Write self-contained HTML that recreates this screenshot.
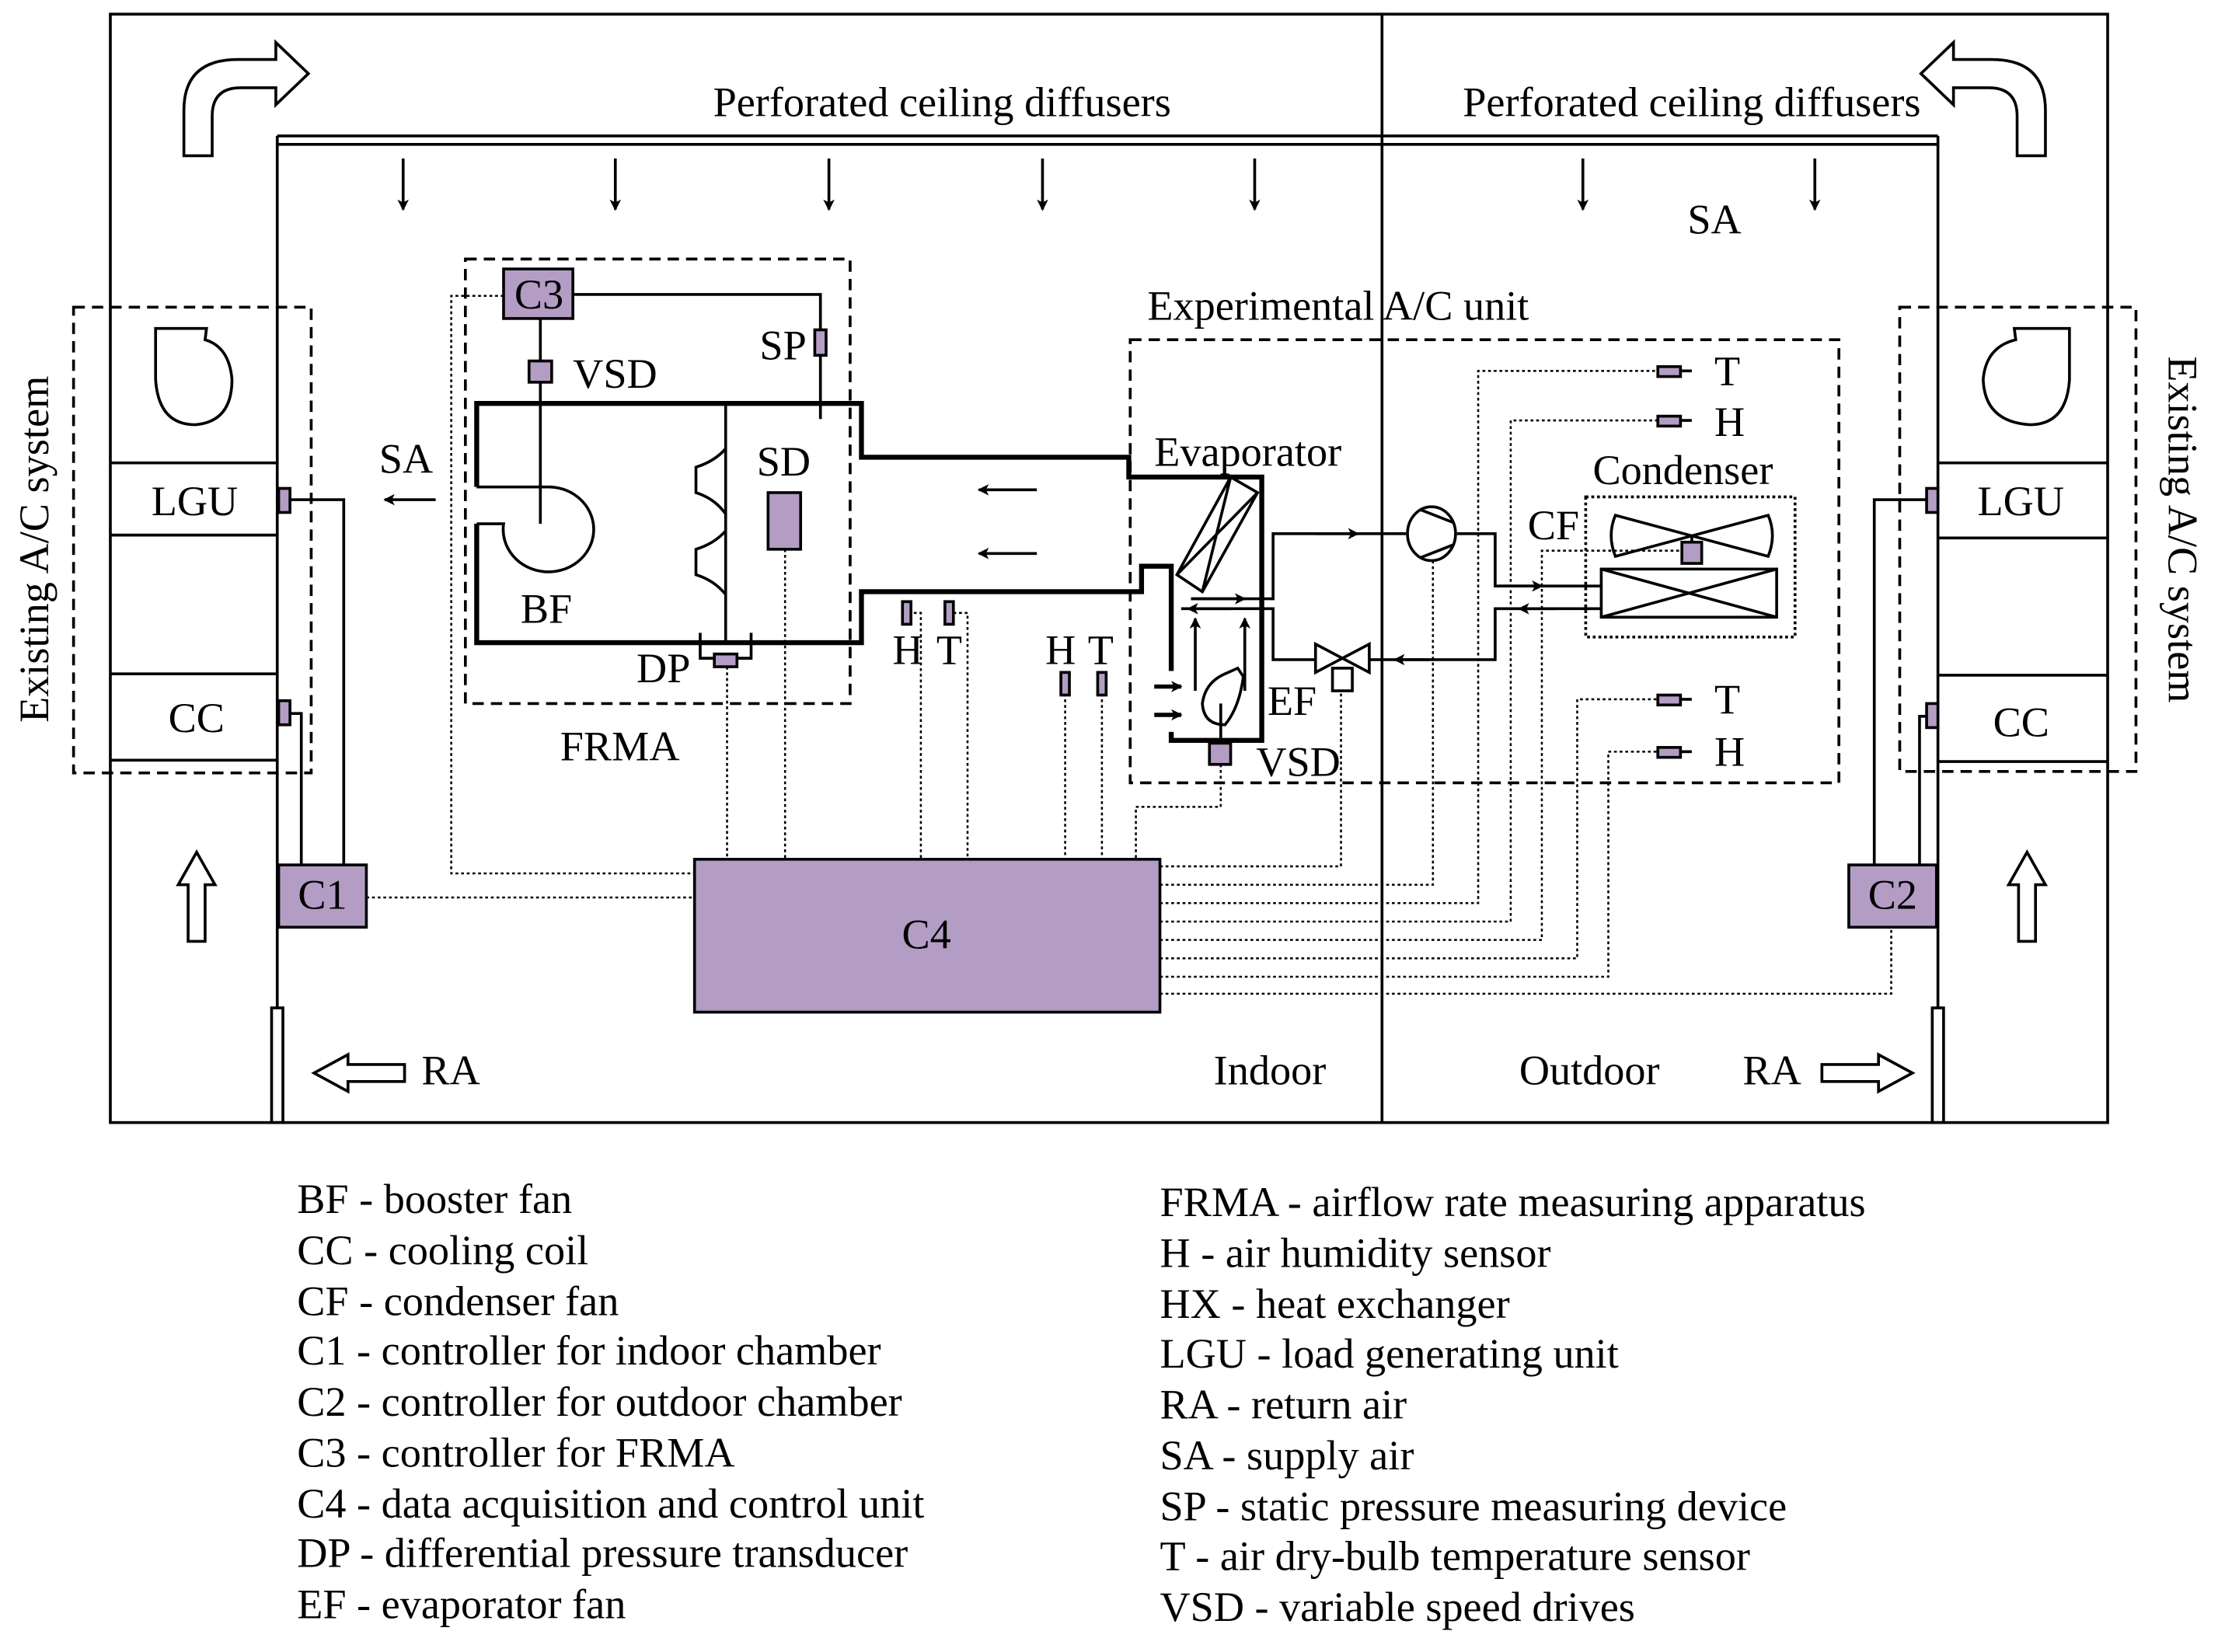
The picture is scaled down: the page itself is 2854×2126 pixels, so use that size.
<!DOCTYPE html>
<html><head><meta charset="utf-8"><style>
html,body{margin:0;padding:0;background:#fff;}
svg{display:block;}
text{font-family:"Liberation Serif",serif;fill:#000;}
</style></head><body>
<svg width="2854" height="2126" viewBox="0 0 1568 1167" preserveAspectRatio="none" xmlns="http://www.w3.org/2000/svg">
<defs>
<marker id="ah" markerWidth="8" markerHeight="8" refX="7" refY="4" orient="auto" markerUnits="userSpaceOnUse"><path d="M0,0 L8,4 L0,8 L2,4 Z" fill="#000"/></marker>
</defs>
<g fill="none" stroke="#000" stroke-width="2">
<rect x="78" y="10" width="1412" height="783"/>
<line x1="977" y1="10" x2="977" y2="793"/>
<line x1="196" y1="96" x2="1370" y2="96"/>
<line x1="196" y1="102" x2="1370" y2="102"/>
<line x1="196" y1="96" x2="196" y2="712"/>
<line x1="1370" y1="96" x2="1370" y2="712"/>
<rect x="192" y="712" width="8" height="81"/>
<rect x="1366" y="712" width="8" height="81"/>
<path d="M130,110 L130,78 Q130,42 168,42 L195,42 L195,30 L218,52 L195,74 L195,62 L170,62 Q150,62 150,82 L150,110 Z"/>
<path d="M1446,110 L1446,78 Q1446,42 1408,42 L1381,42 L1381,30 L1358,52 L1381,74 L1381,62 L1406,62 Q1426,62 1426,82 L1426,110 Z"/>
<path d="M133,665 L133,625 L126,625 L139,602 L152,625 L145,625 L145,665 Z"/>
<path d="M1427,665 L1427,625 L1420,625 L1433,602 L1446,625 L1439,625 L1439,665 Z"/>
<path d="M286,752 L246,752 L246,745 L222,758 L246,771 L246,764 L286,764 Z"/>
<path d="M1288,752 L1328,752 L1328,745 L1352,758 L1328,771 L1328,764 L1288,764 Z"/>
<rect x="52" y="217" width="168" height="329" stroke-dasharray="8,5"/>
<line x1="78" y1="327" x2="196" y2="327"/><line x1="78" y1="378" x2="196" y2="378"/>
<line x1="78" y1="476" x2="196" y2="476"/><line x1="78" y1="537" x2="196" y2="537"/>
<path d="M110,232 L110,268 Q112,300 138,300 Q164,298 164,268 Q162,245 145,240 L146,232 Z"/>
<rect x="1343" y="217" width="167" height="328" stroke-dasharray="8,5"/>
<line x1="1370" y1="327" x2="1490" y2="327"/><line x1="1370" y1="380" x2="1490" y2="380"/>
<line x1="1370" y1="477" x2="1490" y2="477"/><line x1="1370" y1="538" x2="1490" y2="538"/>
<path d="M1463,232 L1463,268 Q1461,300 1435,300 Q1403,298 1402,268 Q1404,245 1425,240 L1424,232 Z"/>
<polyline points="205,353 243,353 243,611"/>
<polyline points="205,504 213,504 213,611"/>
<polyline points="1362,353 1325,353 1325,611"/>
<polyline points="1362,506 1357,506 1357,611"/>
<rect x="329" y="183" width="272" height="314" stroke-dasharray="8,5"/>
<path d="M337,344 L337,285 L609,285 L609,323 L798,323 L798,337 L892,337 L892,523 L828,523 L828,517" stroke-width="3.5"/>
<path d="M337,370 L337,454 L609,454 L609,418 L807,418 L807,400 L828,400 L828,474" stroke-width="3.5"/>
<path d="M337,344 L389,344 A32,30 0 1 1 356,370 L337,370" stroke-width="2"/>
<line x1="382" y1="225" x2="382" y2="370"/>
<line x1="513" y1="285" x2="513" y2="454"/>
<path d="M513,317 Q505,326 492,330 L492,348 Q505,352 513,363"/>
<path d="M513,375 Q505,384 492,388 L492,406 Q505,410 513,420"/>
<polyline points="405,208 580,208 580,296"/>
<polyline points="495,447 495,465 505,465"/><polyline points="521,465 531,465 531,447"/>
<line x1="308" y1="353" x2="272" y2="353" marker-end="url(#ah)"/>
<line x1="733" y1="346" x2="692" y2="346" marker-end="url(#ah)"/>
<line x1="733" y1="391" x2="692" y2="391" marker-end="url(#ah)"/>
<g marker-end="url(#ah)">
<line x1="285" y1="112" x2="285" y2="148"/><line x1="435" y1="112" x2="435" y2="148"/>
<line x1="586" y1="112" x2="586" y2="148"/><line x1="737" y1="112" x2="737" y2="148"/>
<line x1="887" y1="112" x2="887" y2="148"/><line x1="1119" y1="112" x2="1119" y2="148"/>
<line x1="1283" y1="112" x2="1283" y2="148"/>
</g>
<rect x="799" y="240" width="501" height="313" stroke-dasharray="8,5"/>
<path d="M870,337 L889,348 L850,418 L832,406 Z"/>
<line x1="870" y1="337" x2="850" y2="418"/><line x1="889" y1="348" x2="832" y2="406"/>
<polyline points="842,423 900,423 900,377 994,377"/>
<line x1="842" y1="423" x2="880" y2="423" marker-end="url(#ah)"/>
<line x1="930" y1="377" x2="960" y2="377" marker-end="url(#ah)"/>
<ellipse cx="1012" cy="377" rx="17" ry="19"/>
<line x1="1004" y1="360" x2="1027" y2="369"/><line x1="1004" y1="394" x2="1027" y2="385"/>
<polyline points="1030,377 1057,377 1057,414 1132,414"/>
<line x1="1060" y1="414" x2="1090" y2="414" marker-end="url(#ah)"/>
<rect x="1132" y="402" width="124" height="34"/>
<line x1="1132" y1="402" x2="1256" y2="436"/><line x1="1132" y1="436" x2="1256" y2="402"/>
<polyline points="1132,430 1057,430 1057,466 968,466"/>
<line x1="1100" y1="430" x2="1074" y2="430" marker-end="url(#ah)"/>
<line x1="1010" y1="466" x2="986" y2="466" marker-end="url(#ah)"/>
<path d="M930,455 L968,475 L968,455 L930,475 Z"/>
<rect x="942" y="472" width="14" height="16"/>
<polyline points="930,466 900,466 900,430 835,430"/>
<line x1="870" y1="430" x2="840" y2="430" marker-end="url(#ah)"/>
<line x1="845" y1="488" x2="845" y2="437" marker-end="url(#ah)"/>
<line x1="880" y1="488" x2="880" y2="437" marker-end="url(#ah)"/>
<line x1="816" y1="485" x2="835" y2="485" marker-end="url(#ah)" stroke-width="3"/>
<line x1="816" y1="505" x2="835" y2="505" marker-end="url(#ah)" stroke-width="3"/>
<path d="M866,476 L875,472 L879,478 Q876,500 866,512 Q851,512 850,497 Q852,482 866,476 Z"/>
<line x1="863" y1="497" x2="863" y2="527"/>
<rect x="1121" y="351" width="148" height="99" stroke-dasharray="2,2"/>
<path d="M1142,364 L1250,393 Q1256,378 1250,364 L1142,393 Q1136,378 1142,364 Z"/>
<line x1="1196" y1="378" x2="1196" y2="384"/>
</g>
<g fill="none" stroke="#000" stroke-width="1.4" stroke-dasharray="2,2">
<polyline points="356,209 319,209 319,617 491,617"/>
<line x1="259" y1="634" x2="491" y2="634"/>
<line x1="514" y1="471" x2="514" y2="607"/>
<line x1="555" y1="388" x2="555" y2="607"/>
<polyline points="646,433 651,433 651,607"/>
<polyline points="674,433 684,433 684,607"/>
<line x1="753" y1="490" x2="753" y2="607"/>
<line x1="779" y1="490" x2="779" y2="607"/>
<polyline points="863,540 863,570 803,570 803,607"/>
<polyline points="820,612 948,612 948,488"/>
<polyline points="820,625 1013,625 1013,396"/>
<polyline points="820,638 1045,638 1045,262 1172,262"/>
<polyline points="820,651 1068,651 1068,297 1172,297"/>
<polyline points="820,664 1090,664 1090,389 1189,389"/>
<polyline points="820,677 1115,677 1115,494 1172,494"/>
<polyline points="820,690 1137,690 1137,531 1172,531"/>
<polyline points="820,702 1337,702 1337,655"/>
</g>
<g fill="#b39dc4" stroke="#000" stroke-width="2">
<rect x="197" y="611" width="62" height="44"/>
<rect x="1307" y="611" width="62" height="44"/>
<rect x="491" y="607" width="329" height="108"/>
<rect x="356" y="190" width="49" height="35"/>
<rect x="374" y="255" width="16" height="15"/>
<rect x="576" y="233" width="8" height="18"/>
<rect x="543" y="348" width="23" height="40"/>
<rect x="505" y="462" width="16" height="9"/>
<rect x="197" y="345" width="8" height="17"/>
<rect x="197" y="495" width="8" height="17"/>
<rect x="1362" y="345" width="8" height="17"/>
<rect x="1362" y="497" width="8" height="17"/>
<rect x="638" y="425" width="6" height="16"/>
<rect x="668" y="425" width="6" height="16"/>
<rect x="750" y="475" width="6" height="16"/>
<rect x="776" y="475" width="6" height="16"/>
<rect x="855" y="525" width="15" height="15"/>
<rect x="1189" y="383" width="14" height="15"/>
<rect x="1172" y="259" width="16" height="7"/>
<rect x="1172" y="294" width="16" height="7"/>
<rect x="1172" y="491" width="16" height="7"/>
<rect x="1172" y="528" width="16" height="7"/>
</g>
<g stroke="#000" stroke-width="2">
<line x1="1188" y1="262" x2="1196" y2="262"/><line x1="1188" y1="297" x2="1196" y2="297"/>
<line x1="1188" y1="494" x2="1196" y2="494"/><line x1="1188" y1="531" x2="1196" y2="531"/>
</g>
<g font-size="29.8">
<text x="666" y="82" text-anchor="middle">Perforated ceiling diffusers</text>
<text x="1196" y="82" text-anchor="middle">Perforated ceiling diffusers</text>
<text x="1212" y="165" text-anchor="middle">SA</text>
<text x="946" y="226" text-anchor="middle">Experimental  A/C unit</text>
<text x="381" y="218" text-anchor="middle">C3</text>
<text x="405" y="274">VSD</text>
<text x="537" y="254">SP</text>
<text x="535" y="336">SD</text>
<text x="368" y="440">BF</text>
<text x="450" y="482">DP</text>
<text x="268" y="334">SA</text>
<text x="396" y="537">FRMA</text>
<text x="816" y="329">Evaporator</text>
<text x="1126" y="342">Condenser</text>
<text x="1080" y="381">CF</text>
<text x="896" y="505">EF</text>
<text x="888" y="548">VSD</text>
<text x="1212" y="272">T</text><text x="1212" y="308">H</text>
<text x="1212" y="504">T</text><text x="1212" y="541">H</text>
<text x="631" y="469">H</text><text x="662" y="469">T</text>
<text x="739" y="469">H</text><text x="769" y="469">T</text>
<text x="107" y="364">LGU</text>
<text x="119" y="517">CC</text>
<text x="1398" y="364">LGU</text>
<text x="1409" y="520">CC</text>
<text x="228" y="642" text-anchor="middle">C1</text>
<text x="1338" y="642" text-anchor="middle">C2</text>
<text x="655" y="670" text-anchor="middle">C4</text>
<text x="858" y="766">Indoor</text>
<text x="1074" y="766">Outdoor</text>
<text x="298" y="766">RA</text>
<text x="1232" y="766">RA</text>
<text transform="translate(34,388) rotate(-90)" text-anchor="middle">Existing A/C system</text>
<text transform="translate(1533,374) rotate(90)" text-anchor="middle">Existing A/C system</text>
</g>
<g font-size="29.8">
<text x="210" y="857">BF - booster fan</text>
<text x="210" y="893">CC - cooling coil</text>
<text x="210" y="929">CF - condenser fan</text>
<text x="210" y="964">C1 - controller for indoor chamber</text>
<text x="210" y="1000">C2 - controller for outdoor chamber</text>
<text x="210" y="1036">C3 - controller for FRMA</text>
<text x="210" y="1072">C4 - data acquisition and control unit</text>
<text x="210" y="1107">DP - differential pressure transducer</text>
<text x="210" y="1143">EF - evaporator fan</text>
<text x="820" y="859">FRMA - airflow rate measuring apparatus</text>
<text x="820" y="895">H - air humidity sensor</text>
<text x="820" y="931">HX - heat exchanger</text>
<text x="820" y="966">LGU - load generating unit</text>
<text x="820" y="1002">RA - return air</text>
<text x="820" y="1038">SA - supply air</text>
<text x="820" y="1074">SP - static pressure measuring device</text>
<text x="820" y="1109">T - air dry-bulb temperature sensor</text>
<text x="820" y="1145">VSD - variable speed drives</text>
</g>
</svg>
</body></html>
